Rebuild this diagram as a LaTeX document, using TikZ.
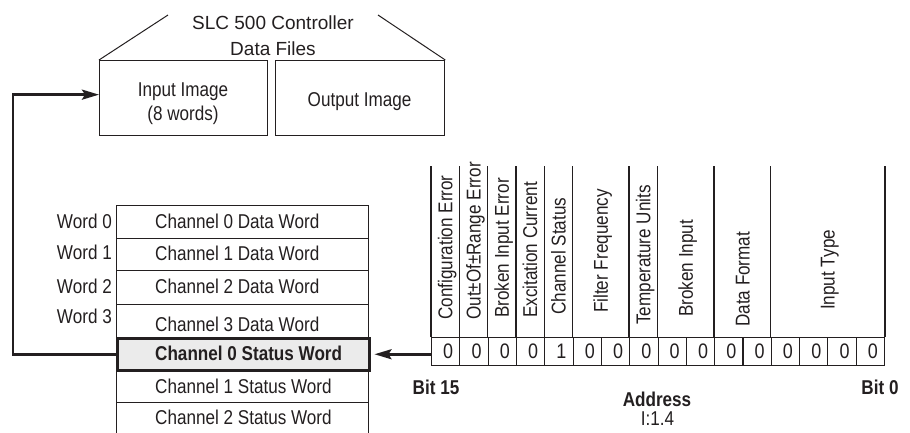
\documentclass[tikz,border=0pt]{standalone}
\usepackage{fontspec}
\newfontfamily\cnd[FakeStretch=0.855]{Liberation Sans}
\newfontfamily\titlefont{Liberation Sans}
\usetikzlibrary{arrows.meta}
\definecolor{ink}{HTML}{231F20}
\definecolor{stfill}{HTML}{EBEBEB}
\begin{document}
\begin{tikzpicture}[x=1pt,y=-1pt,
  txt/.style={font=\cnd\fontsize{20}{24}\selectfont, text=ink, inner sep=0pt, text height=14.3pt, text depth=0pt},
  txttwo/.style={font=\cnd\fontsize{20}{23.7}\selectfont, text=ink, inner sep=0pt, align=center},
  box/.style={draw=ink, line width=1.3pt, inner sep=0pt, anchor=north west},
  row/.style={draw=ink, line width=1.1pt, inner sep=0pt, minimum width=252pt, anchor=north west},
  cell/.style={draw=ink, line width=1.1pt, inner sep=0pt, minimum width=28.3125pt, minimum height=28pt, anchor=north west, font=\cnd\fontsize{21}{23}\selectfont, text=ink, text height=15pt, text depth=0pt},
  grp/.style={draw=ink, line width=1.4pt},
  vlab/.style={txt, rotate=90, anchor=west},
  diag/.style={draw=ink, line width=1pt},
  conn/.style={draw=ink, line width=2.6pt},
  tip/.style={-{Stealth[length=17pt,width=10pt,inset=3pt]}}
]
\useasboundingbox (0,0) rectangle (910,432);

% ---- controller data files ----
\node[txttwo, font=\titlefont\fontsize{19}{26.7}\selectfont] (title) at (273,35.7) {SLC 500 Controller\\Data Files};
\node[box, minimum width=168pt, minimum height=75pt] (inimg) at (99,60) {};
\node[box, minimum width=169pt, minimum height=75pt] (outimg) at (275,60) {};
\node[txttwo] (intext) at (183,104) {Input Image\\(8 words)};
\node[txt] (outtext) at (359.5,99) {Output Image};
\coordinate (dl) at (168,15);
\coordinate (dr) at (378,15);
\draw[diag] (inimg.north west) -- (dl);
\draw[diag] (dr) -- (outimg.north east);

% ---- input image words ----
\node[row, minimum height=32.5pt] (r0) at (116,205) {};
\node[row, minimum height=32.5pt] (r1) at (116,237.5) {};
\node[row, minimum height=33.5pt] (r2) at (116,270) {};
\node[row, minimum height=33.5pt] (r3) at (116,303.5) {};
\node[row, minimum height=32.5pt] (r5) at (116,369) {};
\node[row, minimum height=32.5pt] (r6) at (116,401.5) {};
\node[row, minimum height=32pt, fill=stfill, line width=2.5pt] (st) at (116,337) {};

\node[txt, anchor=west] (t0) at (155,221.5) {Channel 0 Data Word};
\node[txt, anchor=west] (t1) at (155,253) {Channel 1 Data Word};
\node[txt, anchor=west] (t2) at (155,286.3) {Channel 2 Data Word};
\node[txt, anchor=west] (t3) at (155,324) {Channel 3 Data Word};
\node[txt, anchor=west] (ts0) at (155,353.5) {\bfseries Channel 0 Status Word};
\node[txt, anchor=west] (ts1) at (155,386) {Channel 1 Status Word};
\node[txt, anchor=west] (ts2) at (155,417.5) {Channel 2 Status Word};

\node[txt, anchor=east] (w0) at (112,221.7) {Word 0};
\node[txt, anchor=east] (w1) at (112,252.7) {Word 1};
\node[txt, anchor=east] (w2) at (112,286) {Word 2};
\node[txt, anchor=east] (w3) at (112,316.7) {Word 3};

% ---- bit table ----
\foreach \d [count=\k from 0] in {0,0,0,0,1,0,0,0,0,0,0,0,0,0,0,0} {
  \pgfmathtruncatemacro\b{15-\k}
  \node[cell] (b\b) at ({431+\k*28.3125},336.5) {\kern5pt\d};
}
\foreach \n in {15,14,13,12,11,10,8,7,5,3} {
  \draw[grp] (b\n.north west) -- ++(0,-170.5);
}
\draw[grp] (b0.north east) -- ++(0,-170.5);

\node[vlab] (l15) at (445.2,320) {Configuration Error};
\node[vlab] (l14) at (473.4,320) {Out±Of±Range Error};
\node[vlab] (l13) at (501.7,318) {Broken Input Error};
\node[vlab] (l12) at (530,318) {Excitation Current};
\node[vlab] (l11) at (558.4,315) {Channel Status};
\node[vlab] (l10) at (600.8,313) {Filter Frequency};
\node[vlab] (l8) at (643.3,325) {Temperature Units};
\node[vlab] (l7) at (685.8,317) {Broken Input};
\node[vlab] (l5) at (742.4,327) {Data Format};
\node[vlab] (l3) at (827.4,310) {Input Type};

\node[txt] (bit15) at (436,387.5) {\bfseries Bit 15};
\node[txt] (bit0) at (880,387.5) {\bfseries Bit 0};
\node[txt] (addr) at (657,399) {\bfseries Address};
\node[txt] (addrv) at (657.5,418.7) {I:1.4};

% ---- connectors ----
\coordinate (lc) at (13,0);
\coordinate (inpt) at ([yshift=3.5pt]inimg.west);
\draw[conn, tip] (st.west) -- (st.west -| lc) -- (inpt -| lc) -- (inpt);
\draw[conn, tip, shorten >=4pt] (b15.west |- st.east) -- (st.east);
\end{tikzpicture}
\end{document}
